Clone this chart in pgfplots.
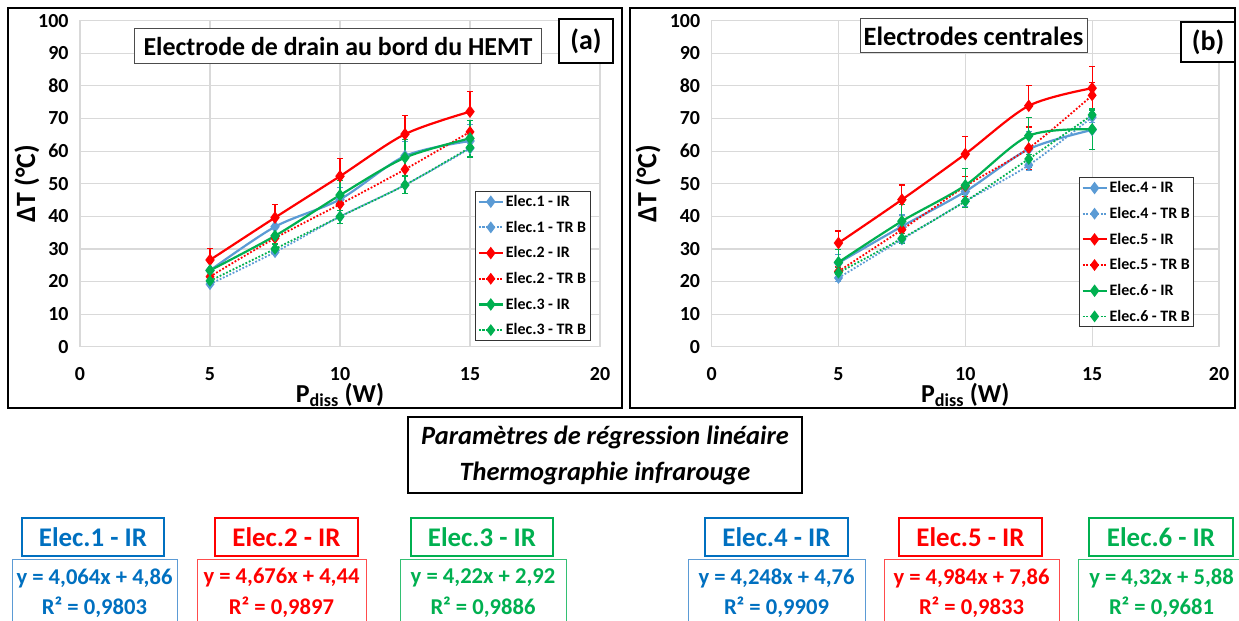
\documentclass[border=0pt]{standalone}
\usepackage{pgfplots}
\pgfplotsset{compat=1.18}
\usepackage{fontspec}
\setmainfont{Carlito}
\definecolor{xblue}{HTML}{5B9BD5}
\definecolor{tblue}{HTML}{0070C0}
\definecolor{xred}{HTML}{FF0000}
\definecolor{xgreen}{HTML}{00B050}
\newcommand{\fs}[1]{\fontsize{#1}{#1}\selectfont}
\pgfplotsset{
  legend image code/.code={\draw[mark repeat=2,mark phase=2,#1] plot coordinates {(0bp,0bp) (12bp,0bp) (24bp,0bp)};},
  ir/.style={solid, line width=2.2bp, smooth, mark=diamond*, mark size=4.5bp, mark options={solid}},
  tr/.style={line width=1.8bp, smooth, dash pattern=on 1.8bp off 1.8bp, mark=diamond*, mark size=4.5bp, mark options={solid}},
  eb/.style={/pgfplots/error bars/y dir=#1, /pgfplots/error bars/y explicit,
     /pgfplots/error bars/error mark=|,
     /pgfplots/error bars/error bar style={line width=1.1bp, solid},
     /pgfplots/error bars/error mark options={mark size=3bp, line width=1.1bp}},
  panel/.style={scale only axis, height=326bp,
    xmin=0, xmax=20, ymin=0, ymax=100,
    xtick={0,5,10,15,20}, ytick={0,10,...,100},
    grid=major, major grid style={draw=black!15, line width=1.2bp},
    axis line style={draw=black!15, line width=1.2bp},
    major tick length=0pt,
    tick label style={font=\bfseries\fs{20}},
    /pgf/number format/assume math mode=true,
    yticklabel shift=8bp,
    xticklabel style={yshift=-17bp},
    ylabel={ΔT (°C)},
    ylabel style={font=\bfseries\fs{28}, anchor=center},
    xlabel={P\textsubscript{diss} (W)},
    xlabel style={font=\bfseries\fs{26}, anchor=center, at={(axis description cs:0.5,-0.147)}},
    legend cell align=left,
    legend style={font=\bfseries\fs{16}, draw=black!80, line width=1bp, anchor=north west,
      row sep=9bp, inner sep=2bp, nodes={inner sep=2bp}},
  }
}
\begin{document}
\begin{tikzpicture}[x=1bp,y=-1bp]
\useasboundingbox (0,0) rectangle (1239,621);
\clip (0,0) rectangle (1239,621);
\fill[white] (0,0) rectangle (1239,621);

% ---------------- panel (a)
\begin{axis}[panel, at={(80bp,-346.7bp)}, anchor=south west, width=520bp,
  ylabel style={at={(axis description cs:-0.102,0.5)}},
  legend style={at={(0.76,0.478)}}]
\addplot[ir, xblue, eb=both] table[x=x,y=y,y error=e] {
x y e
5 23.4 2.5
7.5 36.8 3
10 45.2 3.5
12.5 58.5 4.5
15 63.1 5
};
\addlegendentry{Elec.1 - IR}
\addplot[tr, xblue] table[x=x,y=y] {
x y
5 19.2
7.5 29.0
10 39.9
12.5 49.6
15 60.8
};
\addlegendentry{Elec.1 - TR B}
\addplot[ir, xred, eb=plus] table[x=x,y=y,y error=e] {
x y e
5 26.6 3.6
7.5 39.6 4.1
10 52.3 5.3
12.5 65.2 5.7
15 72.1 6.1
};
\addlegendentry{Elec.2 - IR}
\addplot[tr, xred] table[x=x,y=y] {
x y
5 21.5
7.5 33.3
10 43.7
12.5 54.4
15 65.9
};
\addlegendentry{Elec.2 - TR B}
\addplot[ir, xgreen, eb=both] table[x=x,y=y,y error=e] {
x y e
5 23.4 3
7.5 34.0 3.5
10 46.5 4.6
12.5 58.0 5.5
15 63.9 5.6
};
\addlegendentry{Elec.3 - IR}
\addplot[tr, xgreen, eb=both] table[x=x,y=y,y error=e] {
x y e
5 20.2 1.5
7.5 30.0 1.5
10 39.9 2
12.5 49.6 2.5
15 61.1 3
};
\addlegendentry{Elec.3 - TR B}
\end{axis}

% ---------------- panel (b)
\begin{axis}[panel, at={(711.6bp,-346.7bp)}, anchor=south west, width=507.4bp,
  ylabel style={at={(axis description cs:-0.125,0.5)}},
  legend style={at={(0.724,0.52)}}]
\addplot[ir, xblue, eb=both] table[x=x,y=y,y error=e] {
x y e
5 25.7 2.5
7.5 36.9 3.5
10 47.6 4.5
12.5 60.6 5.5
15 66.5 6
};
\addlegendentry{Elec.4 - IR}
\addplot[tr, xblue, eb=both] table[x=x,y=y,y error=e] {
x y e
5 21.1 1
7.5 32.9 1
10 44.6 1.5
12.5 55.7 1.5
15 70.4 1.5
};
\addlegendentry{Elec.4 - TR B}
\addplot[ir, xred, eb=plus] table[x=x,y=y,y error=e] {
x y e
5 31.8 3.7
7.5 45.1 4.5
10 59.1 5.3
12.5 73.9 6.1
15 79.3 6.6
};
\addlegendentry{Elec.5 - IR}
\addplot[tr, xred, eb=both] table[x=x,y=y,y error=e] {
x y e
5 23.1 1.5
7.5 35.9 2.5
10 49.2 3
12.5 60.9 6.5
15 77.1 4
};
\addlegendentry{Elec.5 - TR B}
\addplot[ir, xgreen, eb=both] table[x=x,y=y,y error=e] {
x y e
5 25.9 3.8
7.5 38.5 5
10 49.5 5.3
12.5 64.7 5.7
15 66.7 6.2
};
\addlegendentry{Elec.6 - IR}
\addplot[tr, xgreen, eb=both] table[x=x,y=y,y error=e] {
x y e
5 22.7 1.5
7.5 33.2 1.5
10 44.6 2
12.5 57.6 2.5
15 71.1 1.5
};
\addlegendentry{Elec.6 - TR B}
\end{axis}

% frames
\draw[line width=2bp] (8,8) rectangle (622,408);
\draw[line width=2bp] (630,8) rectangle (1235,408);

% titles
\node[draw=black!70, line width=1bp, fill=white, minimum width=406bp, minimum height=35bp, inner sep=0, font=\bfseries\fs{26}] at (338,46.5) {Electrode de drain au bord du HEMT};
\node[draw=black, line width=2bp, fill=white, minimum width=54bp, minimum height=44bp, inner sep=0, font=\bfseries\fs{28}] at (586,41) {(a)};
\node[draw=black!70, line width=1bp, fill=white, minimum width=227bp, minimum height=34bp, inner sep=0, font=\bfseries\fs{26.5}] at (973.5,36) {Electrodes centrales};
\node[draw=black, line width=2bp, fill=white, minimum width=54bp, minimum height=40bp, inner sep=0, font=\bfseries\fs{28}] at (1208,42) {(b)};

% regression title
\draw[line width=2bp] (408,417) rectangle (802,493);
\node[font=\bfseries\itshape\fs{26.5}] at (605,437) {Paramètres de régression linéaire};
\node[font=\bfseries\itshape\fs{26.5}] at (605,473) {Thermographie infrarouge};

% regression boxes
\newcommand{\regbox}[9]{%
  \draw[#1, line width=2bp] (#3,518) rectangle (#4,556);
  \node[text=#1, font=\bfseries\fs{27}] at ({(#3+#4)/2},537) {#9};
  \draw[#2, line width=1bp] (#5,559) rectangle (#6,650);
  \node[text=#1, font=\bfseries\fs{22.7}] at ({(#5+#6)/2},578) {#7};
  \node[text=#1, font=\bfseries\fs{22.7}] at ({(#5+#6)/2},607) {#8};
}
\regbox{tblue}{xblue}{22}{164}{12}{177}{y = 4,064x + 4,86}{R² = 0,9803}{Elec.1 - IR}
\regbox{xred}{xred!70}{215}{358}{197}{366}{y = 4,676x + 4,44}{R² = 0,9897}{Elec.2 - IR}
\regbox{xgreen}{xgreen!80}{411}{553}{400}{566}{y = 4,22x + 2,92}{R² = 0,9886}{Elec.3 - IR}
\regbox{tblue}{xblue}{705}{848}{688}{865}{y = 4,248x + 4,76}{R² = 0,9909}{Elec.4 - IR}
\regbox{xred}{xred!70}{899}{1042}{884}{1059}{y = 4,984x + 7,86}{R² = 0,9833}{Elec.5 - IR}
\regbox{xgreen}{xgreen!80}{1089}{1233}{1078}{1245}{y = 4,32x + 5,88}{R² = 0,9681}{Elec.6 - IR}
\end{tikzpicture}
\end{document}
